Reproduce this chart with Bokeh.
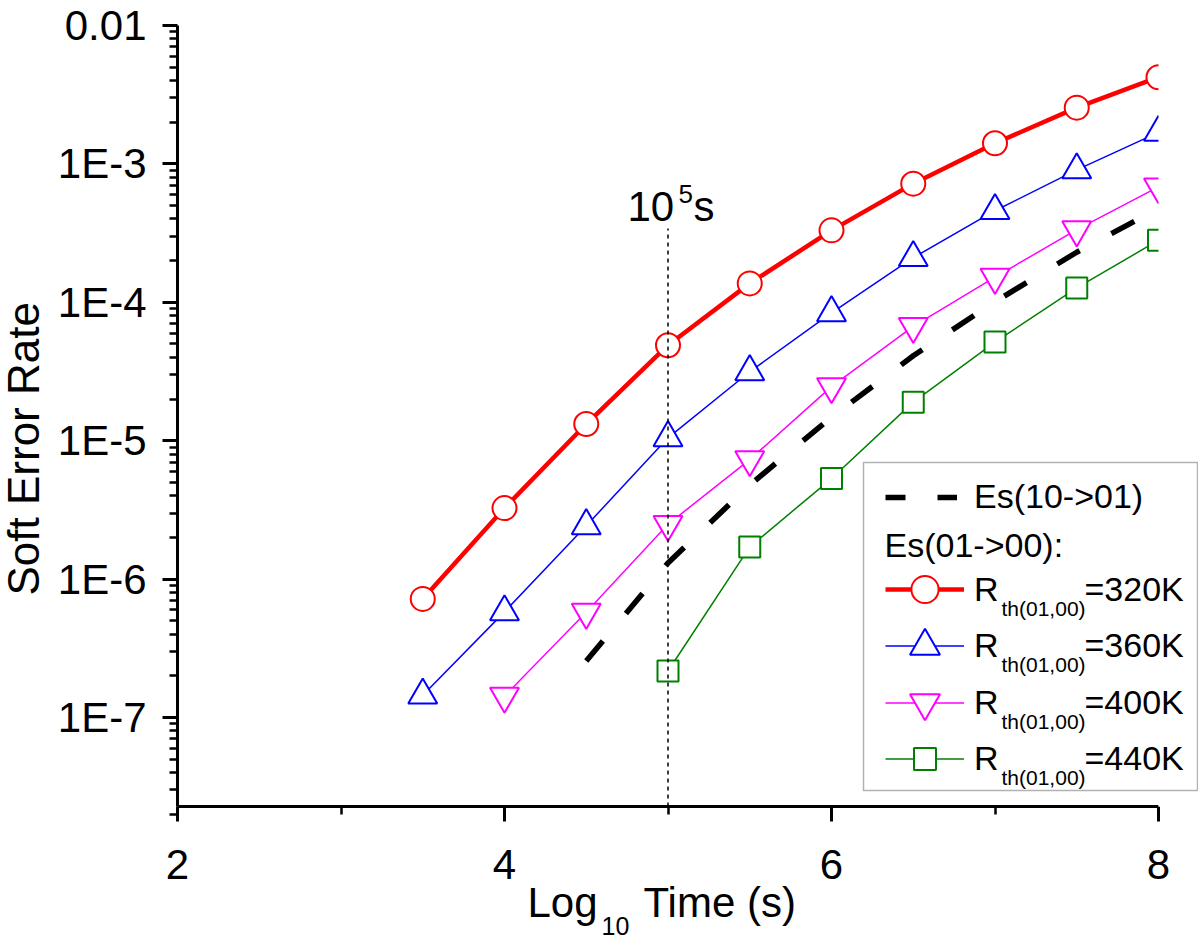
import math
import numpy as np
from bokeh.plotting import figure
from bokeh.models import (Range1d, FixedTicker, CustomJSTickFormatter, Label,
                          Legend, LegendItem, BoxAnnotation)
from bokeh.embed import file_html
from bokeh.resources import INLINE

# ---------------- data ----------------
time_320k = [3.5, 4.0, 4.5, 5.0, 5.5, 6.0, 6.5, 7.0, 7.5, 8.0]
rate_320k = [7.2e-7, 3.26e-6, 1.32e-5, 4.9e-5, 1.37e-4, 3.31e-4, 7.2e-4, 1.41e-3, 2.55e-3, 4.23e-3]

time_360k = [3.5, 4.0, 4.5, 5.0, 5.5, 6.0, 6.5, 7.0, 7.5, 8.0]
rate_360k = [1.45e-7, 5.8e-7, 2.43e-6, 1.05e-5, 3.15e-5, 8.4e-5, 2.1e-4, 4.59e-4, 9.05e-4, 1.69e-3]

time_400k = [4.0, 4.5, 5.0, 5.5, 6.0, 6.5, 7.0, 7.5, 8.0]
rate_400k = [1.43e-7, 5.77e-7, 2.49e-6, 7.31e-6, 2.46e-5, 6.71e-5, 1.52e-4, 3.35e-4, 6.83e-4]

time_440k = [5.0, 5.5, 6.0, 6.5, 7.0, 7.5, 8.0]
rate_440k = [2.17e-7, 1.71e-6, 5.33e-6, 1.9e-5, 5.16e-5, 1.27e-4, 2.81e-4]

time_es1001 = [4.5, 5.0, 5.5, 6.0, 6.5, 7.0, 7.5, 8.0]
rate_es1001 = [2.56e-7, 1.31e-6, 4.79e-6, 1.48e-5, 4.11e-5, 1.01e-4, 2.3e-4, 4.78e-4]

marker_line_x = [5.0]
marker_line_top = [3.42e-4]

x_lo, x_hi = 2.0, 8.0
y_lo, y_hi = 2.277e-8, 1e-2
x_major = [2, 4, 6, 8]
x_minor = [3, 5, 7]
y_major = [1e-7, 1e-6, 1e-5, 1e-4, 1e-3, 1e-2]
y_minor = [m * 10.0 ** e for e in range(-8, -2) for m in range(2, 10)]

FONT = "Liberation Sans"

# ---------------- geometry ----------------
W, H = 1198, 941
AX_L, AX_R, AX_T, AX_B = 177, 1158, 25, 806      # axes box on the canvas
ppx = (AX_R - AX_L) / (x_hi - x_lo)
ppd = (AX_B - AX_T) / (math.log10(y_hi) - math.log10(y_lo))
x_range = Range1d(x_lo - AX_L / ppx, x_hi + (W - AX_R) / ppx)
y_range = Range1d(10 ** (math.log10(y_lo) - (H - AX_B) / ppd),
                  10 ** (math.log10(y_hi) + AX_T / ppd))


def sy(py):
    """canvas y (top-down) -> screen y (bottom-up) of the frame"""
    return H - py


p = figure(width=W, height=H, output_backend="svg", toolbar_location=None,
           x_range=x_range, y_range=y_range, y_axis_type="log",
           min_border_left=0, min_border_right=0, min_border_top=0,
           min_border_bottom=0)
p.outline_line_color = None
p.grid.visible = False
p.background_fill_color = "white"

xa = p.xaxis[0]
ya = p.yaxis[0]
xa.fixed_location = y_lo
ya.fixed_location = x_lo
xa.bounds = (x_lo, x_hi)
ya.bounds = (y_lo, y_hi)
xa.ticker = FixedTicker(ticks=x_major, minor_ticks=x_minor)
ya.ticker = FixedTicker(ticks=y_major, minor_ticks=y_minor)
ya.formatter = CustomJSTickFormatter(code="""
const e = Math.round(Math.log10(tick));
return e == -2 ? "0.01" : "1E" + e;
""")
for ax in (xa, ya):
    ax.axis_line_width = 3
    ax.axis_line_color = "black"
    ax.major_tick_line_width = 3
    ax.minor_tick_line_width = 2.5
    ax.major_tick_line_color = "black"
    ax.minor_tick_line_color = "black"
    ax.major_tick_out = 15
    ax.major_tick_in = 0
    ax.minor_tick_out = 8
    ax.minor_tick_in = 0
    ax.major_label_text_font = FONT
    ax.major_label_text_font_size = "42px"
    ax.major_label_text_color = "black"
xa.major_label_standoff = 28
ya.major_label_standoff = 16

# ---------------- series ----------------
r_line = p.line(time_320k, rate_320k, line_color="#ff0000", line_width=4.5)
r_pts = p.scatter(time_320k, rate_320k, marker="circle", size=24,
                  line_color="#ff0000", line_width=2, fill_color="white")

b_line = p.line(time_360k, rate_360k, line_color="#0000ff", line_width=1.5)
b_pts = p.scatter(time_360k, rate_360k, marker="triangle", size=29,
                  line_color="#0000ff", line_width=2, fill_color="white")

m_line = p.line(time_400k, rate_400k, line_color="#ff00ff", line_width=1.5)
m_pts = p.scatter(time_400k, rate_400k, marker="inverted_triangle", size=29,
                  line_color="#ff00ff", line_width=2, fill_color="white")

g_line = p.line(time_440k, rate_440k, line_color="#008000", line_width=1.5)
g_pts = p.scatter(time_440k, rate_440k, marker="square", size=21,
                  line_color="#008000", line_width=2, fill_color="white")

es_line = p.line(time_es1001, rate_es1001, line_color="black", line_width=5.5,
                 line_dash="26 36")
# legend-only sample (no visible data) with the shorter dash of the key
es_key = p.line(np.array([np.nan]), np.array([np.nan]), line_color="black",
                line_width=5.5, line_dash="20 32")

p.segment(x0=marker_line_x, y0=[y_lo], x1=marker_line_x, y1=marker_line_top,
          line_color="black", line_width=1.5, line_dash="4 4")

# the plotted data stop at the right edge of the axes box (x = 8)
p.add_layout(BoxAnnotation(left=x_hi, right=x_range.end, bottom=y_lo, top=y_range.end,
                           fill_color="white", fill_alpha=1.0, line_alpha=0))


# ---------------- texts ----------------
def add_label(text, px, baseline, size, angle=0.0, align="left"):
    """place a text by its alphabetic baseline (canvas px, top-down)"""
    shift = 0.36 * size          # baseline -> middle line of the text box
    if angle:
        x, y = px - shift, sy(baseline)
    else:
        x, y = px, sy(baseline - shift)
    p.add_layout(Label(x=x, y=y, x_units="screen", y_units="screen",
                       text=text, text_font=FONT, text_font_size=f"{size}px",
                       text_color="black", text_baseline="middle",
                       text_align=align, angle=angle))


# y title (rotated; px = baseline column, baseline arg = start of the text)
add_label("Soft Error Rate", 39, 595, 44, angle=math.pi / 2)
# x title
add_label("Log", 527, 917, 42)
add_label("10", 601, 934, 25)
add_label("Time (s)", 643, 917, 42)
# 10^5 s annotation
add_label("10", 627, 221, 42)
add_label("5", 678, 203, 26)
add_label("s", 693, 221, 42)

# ---------------- legend ----------------
p.add_layout(BoxAnnotation(left=863, right=1197, bottom=sy(790), top=sy(462),
                           left_units="screen", right_units="screen",
                           top_units="screen", bottom_units="screen",
                           fill_color="white", fill_alpha=1.0,
                           line_color="black", line_width=1.5))


def add_leg(label, renderers, gx, cy, gw, gh, standoff):
    leg = Legend(items=[LegendItem(label=label, renderers=renderers)],
                 location=(gx, sy(cy + gh / 2.0)),
                 padding=0, margin=0, spacing=0,
                 glyph_width=gw, glyph_height=gh,
                 label_standoff=standoff, label_height=10, label_width=10,
                 label_text_font=FONT, label_text_font_size="34px",
                 label_text_color="black",
                 border_line_alpha=0, background_fill_alpha=0)
    p.add_layout(leg)


add_leg("Es(10->01)", [es_key], 885, 501, 72, 30, 17)
rows = [("=320K", [r_line, r_pts], 589, 68),
        ("=360K", [b_line, b_pts], 645, 75),
        ("=400K", [m_line, m_pts], 702, 75),
        ("=440K", [g_line, g_pts], 758, 55)]
for val, rends, cy, gh in rows:
    add_leg("R", rends, 885, cy, 79, gh, 10)
    base = cy + 11.8
    add_label("th(01,00)", 1001, base + 15, 21)
    add_label(val, 1084, base, 34)

add_label("Es(01->00):", 884, 557, 34)

open("out.html", "w").write(file_html(p, INLINE))
